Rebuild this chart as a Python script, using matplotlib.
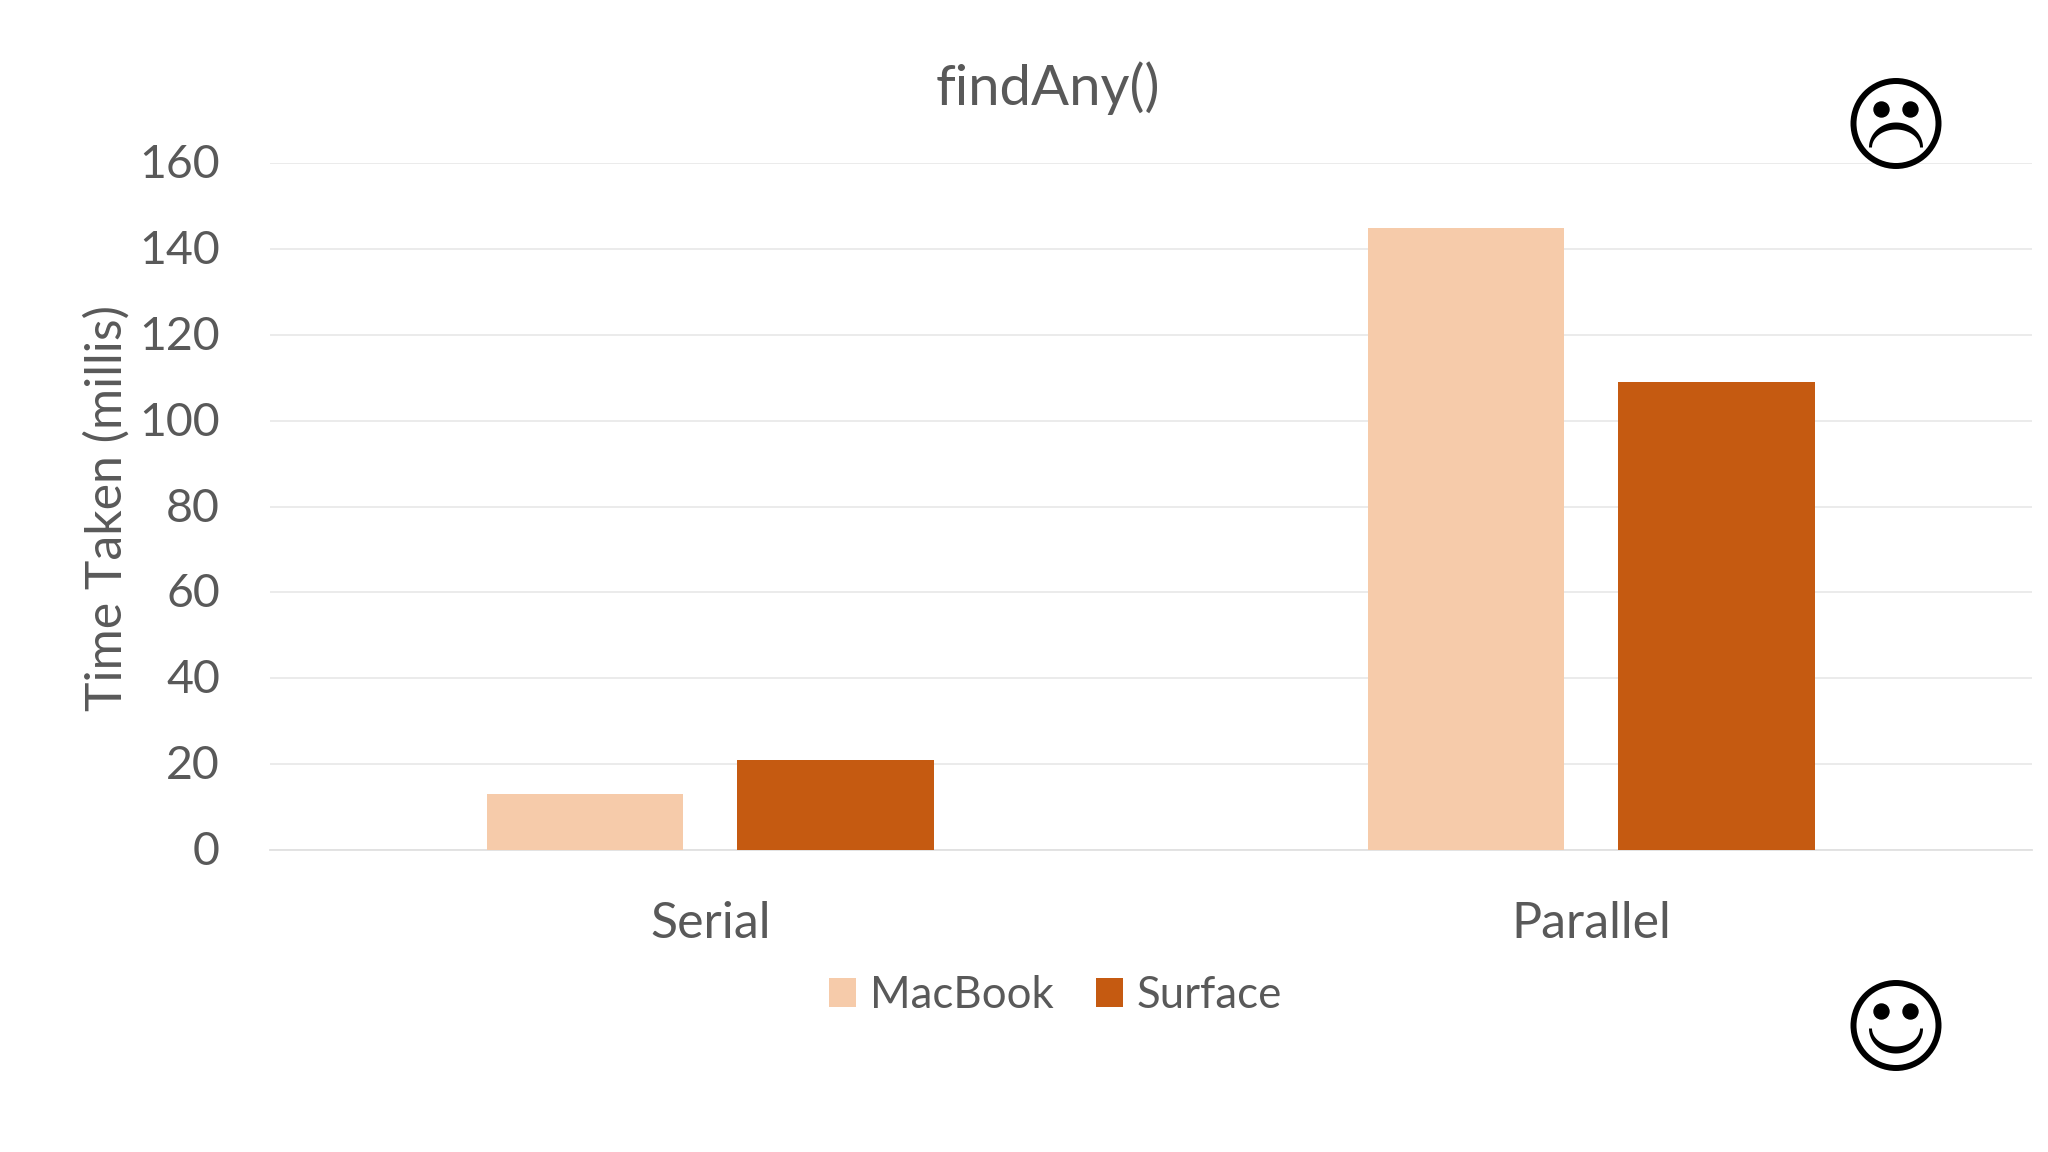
import numpy as np
import matplotlib.pyplot as plt
import matplotlib.transforms as mtransforms
from matplotlib.patches import Circle, Polygon

categories = ['Serial', 'Parallel']
macbook = [13, 144.9]
surface = [21, 109]
y_ticks = [0, 20, 40, 60, 80, 100, 120, 140, 160]

plt.rcParams['font.family'] = ['Lato', 'DejaVu Sans']
text_color = '#595959'

fig = plt.figure(figsize=(20.48, 11.52), dpi=100)
ax = fig.add_axes([270 / 2048, 1 - 850 / 1152, 1762 / 2048, (850 - 163) / 1152])

x = np.arange(len(categories))
width = 0.2235
offset = 0.142
ax.bar(x - offset - 0.0005, macbook, width, color='#F6CBAA', label='MacBook', zorder=3)
ax.bar(x + offset, surface, width, color='#C55A11', label='Surface', zorder=3)

ax.set_xlim(-0.5, 1.5)
ax.set_ylim(0, 160)
ax.set_xticks(x, categories)
ax.set_yticks(y_ticks)
ax.tick_params(axis='y', length=0, labelsize=33.5, labelcolor=text_color, pad=36)
ax.tick_params(axis='x', length=0, labelsize=36, labelcolor=text_color, pad=37)
ax.grid(axis='y', color='#E9E9E9', linewidth=1.3, zorder=0)
ax.set_axisbelow(True)
for name in ['top', 'right', 'left']:
    ax.spines[name].set_visible(False)
ax.spines['bottom'].set_color('#E0E0E0')
ax.spines['bottom'].set_linewidth(1.3)

# tick numbers sit a little above their grid lines
lift = mtransforms.ScaledTranslation(0, 2 / 100, fig.dpi_scale_trans)
for label in ax.get_yticklabels():
    label.set_transform(label.get_transform() + lift)

fig.text(1048 / 2048, 1 - 88 / 1152, 'findAny()', fontsize=40.5, color=text_color, ha='center', va='center')
fig.text(107 / 2048, 1 - 508 / 1152, 'Time Taken (millis)', fontsize=36, color=text_color,
         rotation=90, ha='center', va='center')

leg = fig.legend(loc='center', bbox_to_anchor=(1055.5 / 2048, 1 - 995.5 / 1152), ncol=2, frameon=False,
                 fontsize=31.5, labelcolor=text_color, handlelength=0.62, handleheight=0.62,
                 handletextpad=0.32, columnspacing=0.95)

# faces drawn in figure pixels
face = fig.add_axes([0, 0, 1, 1], zorder=5)
face.set_xlim(0, 2048)
face.set_ylim(1152, 0)
face.axis('off')
face.patch.set_alpha(0)


def draw_face(cx, cy, happy):
    face.add_patch(Circle((cx, cy), 42.5, fill=False, edgecolor='black', linewidth=4.3))
    for dx in [-14.5, 14.5]:
        face.add_patch(Circle((cx + dx, cy - 14), 7.5, color='black'))
    t = np.linspace(-np.pi / 2, np.pi / 2, 60)
    tip = cy + (3 if happy else 24)
    sign = 1 if happy else -1
    outer = np.column_stack([cx + 27 * np.sin(t), tip + sign * 25 * np.cos(t)])
    inner = np.column_stack([cx + 24 * np.sin(t), tip + sign * 18 * np.cos(t)])
    face.add_patch(Polygon(np.vstack([outer, inner[::-1]]), closed=True, color='black', linewidth=0))


draw_face(1896, 123.5, False)
draw_face(1896, 1025.5, True)

fig.savefig('out.png', dpi=100)
